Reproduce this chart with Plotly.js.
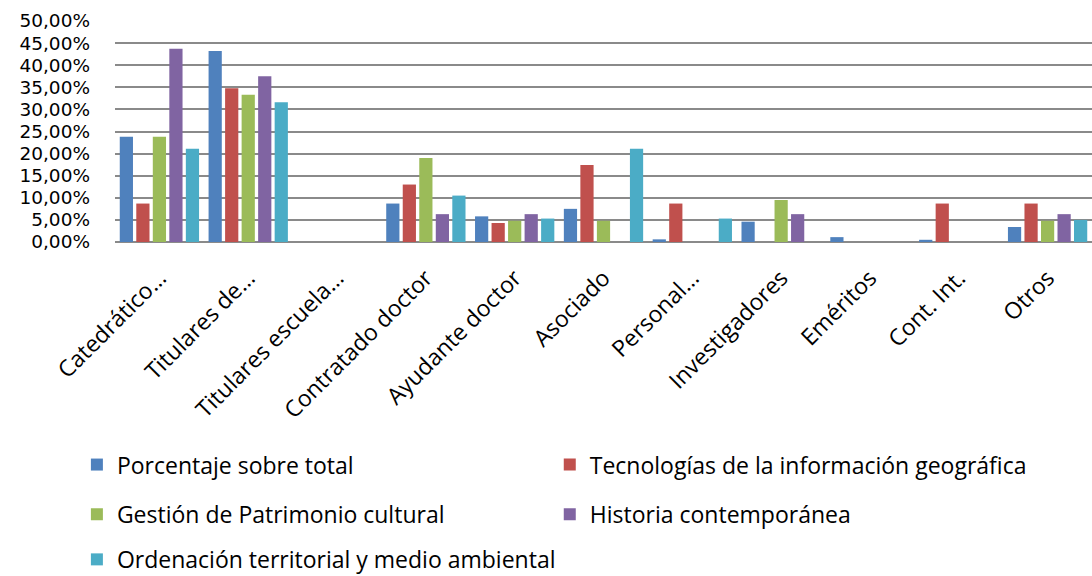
<!DOCTYPE html>
<html>
<head>
<meta charset="utf-8">
<script src="https://cdn.plot.ly/plotly-3.0.1.min.js"></script>
<style>html,body{margin:0;padding:0;background:#fff;}#chart{width:1092px;height:576px;}</style>
</head>
<body>
<div id="chart"></div>
<script>
const categories = ["Catedrático…", "Titulares de…", "Titulares escuela…", "Contratado doctor", "Ayudante doctor", "Asociado", "Personal…", "Investigadores", "Eméritos", "Cont. Int.", "Otros"];
const seriesNames = ["Porcentaje sobre total", "Tecnologías de la información geográfica", "Gestión de Patrimonio cultural", "Historia contemporánea", "Ordenación territorial y medio ambiental"];
const porcentajeTotal = [0.238, 0.432, 0, 0.087, 0.058, 0.075, 0.006, 0.046, 0.011, 0.005, 0.034];
const tecnologias     = [0.087, 0.348, 0, 0.130, 0.043, 0.174, 0.087, 0, 0, 0.087, 0.087];
const patrimonio      = [0.238, 0.333, 0, 0.190, 0.048, 0.048, 0, 0.095, 0, 0, 0.048];
const historia        = [0.437, 0.375, 0, 0.063, 0.063, 0, 0, 0.063, 0, 0, 0.063];
const ordenacion      = [0.211, 0.316, 0, 0.105, 0.053, 0.211, 0.053, 0, 0, 0, 0.050];
const colors = ["#4F81BD", "#C0504D", "#9BBB59", "#8064A2", "#4BACC6"];
const allSeries = [porcentajeTotal, tecnologias, patrimonio, historia, ordenacion];
const legendIds = ["legend", "legend2", "legend3", "legend4", "legend5"];

const font = "'Open Sans', sans-serif";
const tickFont = "'DejaVu Sans', sans-serif";
const traces = allSeries.map((vals, i) => ({
  type: "bar",
  name: seriesNames[i],
  x: categories,
  y: vals,
  legend: legendIds[i],
  marker: {color: colors[i]},
  hoverinfo: "x+y+name"
}));

function legendAt(x, y) {
  return {
    orientation: "v",
    x: x, xanchor: "left",
    y: y, yanchor: "top",
    font: {family: font, size: 23, color: "#000"},
    bgcolor: "rgba(0,0,0,0)"
  };
}

const colX = [-0.039, 0.445];
const rowY = [-0.910, -1.135, -1.339];

const layout = {
  width: 1092, height: 576,
  margin: {l: 115, r: 0, t: 21, b: 334, autoexpand: false},
  paper_bgcolor: "#fff", plot_bgcolor: "#fff",
  separators: ",.",
  barmode: "group",
  bargap: 0.07,
  bargroupgap: 0.2,
  font: {family: font, size: 23, color: "#000"},
  xaxis: {
    type: "category",
    automargin: false,
    tickangle: -45,
    tickfont: {family: font, size: 23, color: "#000"},
    showgrid: false,
    showline: false,
    ticks: "",
    ticklabelstandoff: 17
  },
  yaxis: {
    automargin: false,
    range: [0, 0.5],
    dtick: 0.05,
    tickformat: ".2%",
    tickfont: {family: tickFont, size: 18.5, color: "#000"},
    showgrid: true,
    gridcolor: "#8a8a8a",
    gridwidth: 2,
    zeroline: true,
    zerolinecolor: "#8a8a8a",
    zerolinewidth: 2,
    ticklabelstandoff: 24
  },
  showlegend: true,
  legend:  legendAt(colX[0], rowY[0]),
  legend2: legendAt(colX[1], rowY[0]),
  legend3: legendAt(colX[0], rowY[1]),
  legend4: legendAt(colX[1], rowY[1]),
  legend5: legendAt(colX[0], rowY[2])
};

Plotly.newPlot("chart", traces, layout, {displayModeBar: false, staticPlot: true});
</script>
</body>
</html>
